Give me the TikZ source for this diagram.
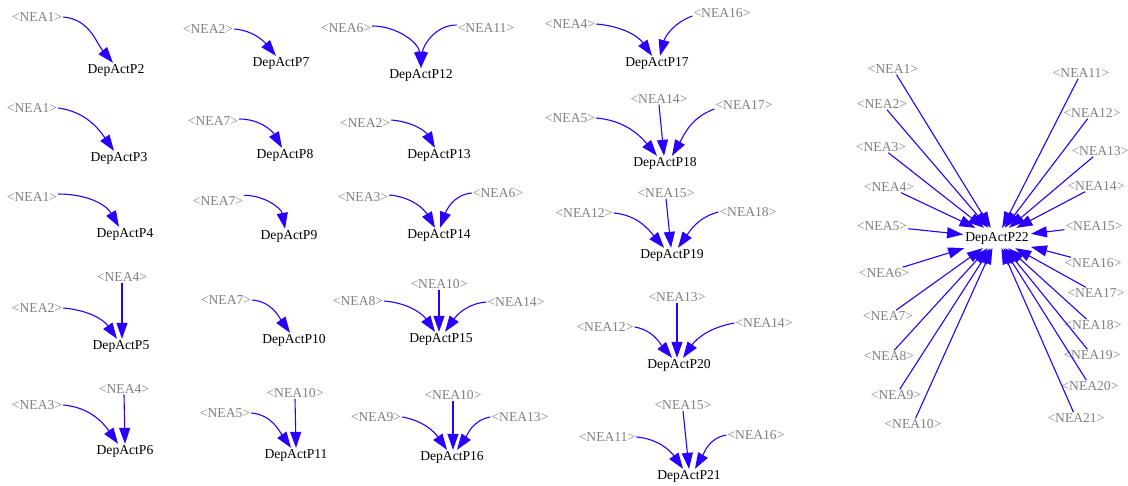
\documentclass[tikz,border=0pt]{standalone}
\usepackage{fontspec}
\setmainfont{Liberation Serif}
\usetikzlibrary{arrows.meta}
\definecolor{edgeblue}{RGB}{40,0,255}
\definecolor{labelgray}{RGB}{128,128,128}
\begin{document}
\begin{tikzpicture}[x=1pt,y=-1pt,
  src/.style={text=labelgray,inner sep=1pt,font=\fontsize{13.6}{16}\selectfont},
  act/.style={text=black,inner sep=1pt,font=\fontsize{13.6}{16}\selectfont},
  hub/.style={act,inner xsep=2pt,inner ysep=4pt},
  dep/.style={draw=edgeblue,line width=1.1pt,-{Triangle[length=16pt,width=11pt]}}]
\useasboundingbox (0,0) rectangle (1128,485);

% ---- column 1 ----
\node[src] (a2) at (37,17) {<NEA1>};
\node[act] (p2) at (116,70) {DepActP2};
\draw[dep] (a2.east) to[out=-5,in=130] ([xshift=-3pt]p2.north);

\node[src] (a3) at (32,108) {<NEA1>};
\node[act] (p3) at (119,158) {DepActP3};
\draw[dep] (a3.east) to[out=-8,in=125] ([xshift=-5pt]p3.north);

\node[src] (a4) at (32,197) {<NEA1>};
\node[act] (p4) at (125,234) {DepActP4};
\draw[dep] ([yshift=3pt]a4.east) to[out=0,in=120] ([xshift=-6pt]p4.north);

\node[src] (b5) at (122,277) {<NEA4>};
\node[src] (a5) at (37,308) {<NEA2>};
\node[act] (p5) at (121,346) {DepActP5};
\draw[dep] (b5.south) -- ([xshift=1pt]p5.north);
\draw[dep] (a5.east) to[out=-5,in=125] ([xshift=-4pt]p5.north);

\node[src] (b6) at (124,389) {<NEA4>};
\node[src] (a6) at (37,405) {<NEA3>};
\node[act] (p6) at (125,451) {DepActP6};
\draw[dep] (b6.south) -- (p6.north);
\draw[dep] (a6.east) to[out=-5,in=125] ([xshift=-7pt]p6.north);

% ---- column 2 ----
\node[src] (a7) at (208,29) {<NEA2>};
\node[act] (p7) at (281,63) {DepActP7};
\draw[dep] (a7.east) to[out=-5,in=130] ([xshift=-5pt]p7.north);

\node[src] (a8) at (213,121) {<NEA7>};
\node[act] (p8) at (285,155) {DepActP8};
\draw[dep] ([yshift=2pt]a8.east) to[out=0,in=120] ([xshift=-3pt]p8.north);

\node[src] (a9) at (218,201) {<NEA7>};
\node[act] (p9) at (289,236) {DepActP9};
\draw[dep] (a9.north east) to[out=0,in=100] ([xshift=-4pt]p9.north);

\node[src] (a10) at (226,300) {<NEA7>};
\node[act] (p10) at (294,340) {DepActP10};
\draw[dep] (a10.east) to[out=-5,in=125] ([xshift=-4pt]p10.north);

\node[src] (b11) at (295,393) {<NEA10>};
\node[src] (a11) at (225,413) {<NEA5>};
\node[act] (p11) at (296,455) {DepActP11};
\draw[dep] (b11.south) -- (p11.north);
\draw[dep] (a11.east) to[out=-5,in=125] ([xshift=-5pt]p11.north);

% ---- column 3 ----
\node[src] (a12) at (346,28) {<NEA6>};
\node[src] (b12) at (486,28) {<NEA11>};
\node[act] (p12) at (421,75) {DepActP12};
\draw[dep] ([yshift=2pt]a12.east) to[out=0,in=95] (p12.north);
\draw[dep] ([yshift=3pt]b12.west) to[out=180,in=85] (p12.north);

\node[src] (a13) at (365,123) {<NEA2>};
\node[act] (p13) at (439,155) {DepActP13};
\draw[dep] ([yshift=3pt]a13.east) to[out=-5,in=120] ([xshift=-4pt]p13.north);

\node[src] (a14) at (363,197) {<NEA3>};
\node[src] (b14) at (498,193) {<NEA6>};
\node[act] (p14) at (439,235) {DepActP14};
\draw[dep] ([yshift=2pt]a14.east) to[out=-5,in=120] ([xshift=-4pt]p14.north);
\draw[dep] (b14.west) to[out=185,in=70] ([xshift=1pt]p14.north);

\node[src] (b15) at (439,284) {<NEA10>};
\node[src] (a15) at (358,301) {<NEA8>};
\node[src] (c15) at (516,302) {<NEA14>};
\node[act] (p15) at (441,339) {DepActP15};
\draw[dep] (b15.south) -- ([xshift=-2pt]p15.north);
\draw[dep] (a15.east) to[out=-5,in=125] ([xshift=-6pt]p15.north);
\draw[dep] (c15.west) to[out=185,in=55] ([xshift=4pt]p15.north);

\node[src] (b16) at (453,395) {<NEA10>};
\node[src] (a16) at (376,417) {<NEA9>};
\node[src] (c16) at (520,417) {<NEA13>};
\node[act] (p16) at (452,457) {DepActP16};
\draw[dep] (b16.south) -- ([xshift=1pt]p16.north);
\draw[dep] (a16.east) to[out=-10,in=125] ([xshift=-5pt]p16.north);
\draw[dep] (c16.west) to[out=190,in=55] ([xshift=5pt]p16.north);

% ---- column 4 ----
\node[src] (a17) at (570,24) {<NEA4>};
\node[src] (b17) at (722,13) {<NEA16>};
\node[act] (p17) at (657,63) {DepActP17};
\draw[dep] (a17.east) to[out=-5,in=125] ([xshift=-5pt]p17.north);
\draw[dep] ([yshift=-3pt]b17.west) to[out=200,in=75] ([xshift=3pt]p17.north);

\node[src] (b18) at (659,99) {<NEA14>};
\node[src] (a18) at (570,118) {<NEA5>};
\node[src] (c18) at (744,105) {<NEA17>};
\node[act] (p18) at (665,163) {DepActP18};
\draw[dep] (b18.south) -- ([xshift=-1pt]p18.north);
\draw[dep] (a18.east) to[out=-5,in=130] ([xshift=-8pt]p18.north);
\draw[dep] ([yshift=-4pt]c18.west) to[out=200,in=60] ([xshift=7pt]p18.north);

\node[src] (b19) at (666,193) {<NEA15>};
\node[src] (a19) at (584,213) {<NEA12>};
\node[src] (c19) at (748,212) {<NEA18>};
\node[act] (p19) at (672,255) {DepActP19};
\draw[dep] (b19.south) -- ([xshift=-1pt]p19.north);
\draw[dep] (a19.east) to[out=-5,in=130] ([xshift=-8pt]p19.north);
\draw[dep] (c19.west) to[out=195,in=55] ([xshift=6pt]p19.north);

\node[src] (b20) at (677,297) {<NEA13>};
\node[src] (a20) at (605,327) {<NEA12>};
\node[src] (c20) at (764,323) {<NEA14>};
\node[act] (p20) at (679,365) {DepActP20};
\draw[dep] (b20.south) -- ([xshift=-2pt]p20.north);
\draw[dep] (a20.east) to[out=-10,in=130] ([xshift=-7pt]p20.north);
\draw[dep] (c20.west) to[out=190,in=55] ([xshift=4pt]p20.north);

\node[src] (b21) at (683,405) {<NEA15>};
\node[src] (a21) at (607,437) {<NEA11>};
\node[src] (c21) at (756,435) {<NEA16>};
\node[act] (p21) at (689,476) {DepActP21};
\draw[dep] (b21.south) -- (p21.north);
\draw[dep] (a21.east) to[out=-5,in=125] ([xshift=-6pt]p21.north);
\draw[dep] (c21.west) to[out=190,in=60] ([xshift=6pt]p21.north);

% ---- the large fan-in ----
\node[hub] (p22) at (997,238) {DepActP22};
\foreach \n/\x/\y in {1/893/69, 2/882/104, 3/881/147, 4/889/187, 5/882/226,
    6/884/273, 7/888/316, 8/889/356, 9/896/395, 10/913/424,
    11/1081/73, 12/1092/113, 13/1100/151, 14/1096/186, 15/1094/226,
    16/1093/263, 17/1096/293, 18/1093/325, 19/1092/355, 20/1090/386, 21/1076/418}
  \node[src] (q\n) at (\x,\y) {<NEA\n>};
\foreach \n in {1,...,21}
  \draw[dep] (q\n) -- (p22);
\end{tikzpicture}
\end{document}
